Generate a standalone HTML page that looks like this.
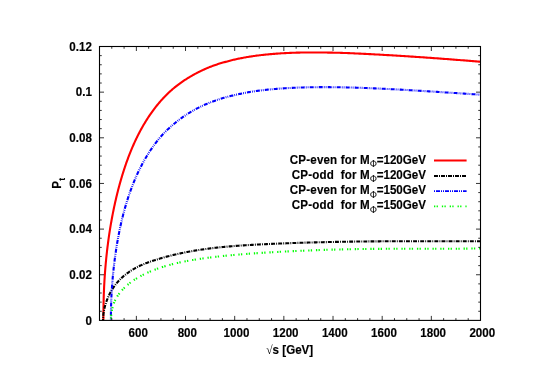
<!DOCTYPE html>
<html>
<head>
<meta charset="utf-8">
<title>P_t vs sqrt(s)</title>
<style>
html, body { margin: 0; padding: 0; background: #ffffff; }
body { width: 545px; height: 385px; overflow: hidden; }
svg { display: block; will-change: transform; }
text {
  font-family: "Liberation Sans", sans-serif;
  font-weight: bold;
  font-size: 11.6px;
  fill: #000000;
  stroke: #000000;
  stroke-width: 0.15px;
  stroke-linejoin: round;
}
.phi { font-family: "Liberation Serif", serif; font-weight: normal; font-size: 9.3px; stroke: none; }
.sym { font-family: "Liberation Serif", serif; font-weight: normal; stroke: none; }
.sub { font-size: 9.3px; }
</style>
</head>
<body>
<svg width="545" height="385" viewBox="0 0 545 385">
<rect x="0" y="0" width="545" height="385" fill="#ffffff"/>

<!-- curves -->
<defs><clipPath id="plotclip"><rect x="99.5" y="46.5" width="381.0" height="273.9"/></clipPath></defs>
<g fill="none" stroke-linejoin="round" clip-path="url(#plotclip)">
<path d="M103.40,320.10 L103.40,318.46 L103.41,316.79 L103.41,315.15 L103.42,313.52 L103.44,311.91 L103.45,310.32 L103.47,308.75 L103.50,307.19 L103.52,305.65 L103.55,304.12 L103.58,302.60 L103.62,301.10 L103.66,299.62 L103.70,298.14 L103.74,296.68 L103.79,295.23 L103.84,293.80 L103.89,292.37 L103.95,290.95 L104.01,289.55 L104.07,288.15 L104.13,286.76 L104.20,285.38 L104.27,284.01 L104.35,282.64 L104.42,281.28 L104.50,279.93 L104.59,278.58 L104.67,277.24 L104.76,275.90 L104.86,274.57 L104.95,273.24 L105.05,271.91 L105.15,270.59 L105.25,269.26 L105.36,267.94 L105.47,266.63 L105.59,265.31 L105.70,264.00 L105.82,262.68 L105.95,261.37 L106.07,260.07 L106.20,258.76 L106.33,257.46 L106.47,256.16 L106.60,254.86 L106.74,253.57 L106.89,252.27 L107.04,250.98 L107.19,249.69 L107.34,248.41 L107.49,247.12 L107.65,245.84 L107.82,244.56 L107.98,243.28 L108.15,242.01 L108.32,240.74 L108.49,239.47 L108.67,238.20 L108.85,236.93 L109.03,235.67 L109.22,234.41 L109.41,233.15 L109.60,231.90 L109.80,230.65 L110.00,229.39 L110.20,228.15 L110.40,226.90 L110.61,225.66 L110.82,224.42 L111.03,223.18 L111.25,221.95 L111.47,220.71 L111.69,219.48 L111.92,218.25 L112.15,217.03 L112.38,215.81 L112.61,214.59 L112.85,213.37 L113.09,212.15 L113.34,210.94 L113.58,209.73 L113.83,208.52 L114.08,207.32 L114.34,206.12 L114.60,204.92 L114.86,203.72 L115.13,202.53 L115.39,201.34 L115.67,200.15 L115.94,198.97 L116.22,197.79 L116.50,196.61 L116.78,195.43 L117.07,194.26 L117.36,193.09 L117.65,191.93 L117.94,190.77 L118.24,189.61 L118.54,188.45 L118.85,187.30 L119.15,186.16 L119.46,185.01 L119.78,183.87 L120.09,182.73 L120.41,181.60 L120.74,180.47 L121.06,179.35 L121.39,178.23 L121.72,177.11 L122.06,176.00 L122.39,174.89 L122.74,173.78 L123.08,172.68 L123.43,171.59 L123.78,170.49 L124.13,169.41 L124.48,168.32 L124.84,167.24 L125.21,166.17 L125.57,165.10 L125.94,164.03 L126.31,162.97 L126.68,161.92 L127.06,160.87 L127.44,159.82 L127.82,158.78 L128.21,157.74 L128.60,156.71 L128.99,155.68 L129.39,154.66 L129.78,153.65 L130.19,152.63 L130.59,151.63 L131.00,150.63 L131.41,149.63 L131.82,148.64 L132.24,147.66 L132.66,146.68 L133.08,145.71 L133.50,144.74 L133.93,143.77 L134.36,142.82 L134.80,141.87 L135.24,140.92 L135.68,139.98 L136.12,139.05 L136.57,138.12 L137.02,137.19 L137.47,136.27 L137.93,135.36 L138.39,134.45 L138.85,133.55 L139.31,132.66 L139.78,131.77 L140.25,130.88 L140.72,130.00 L141.20,129.13 L141.68,128.26 L142.16,127.40 L142.65,126.54 L143.14,125.69 L143.63,124.84 L144.13,124.00 L144.63,123.17 L145.13,122.34 L145.63,121.51 L146.14,120.69 L146.65,119.88 L147.16,119.07 L147.68,118.27 L148.20,117.48 L148.72,116.69 L149.25,115.90 L149.77,115.12 L150.31,114.35 L150.84,113.58 L151.38,112.81 L151.92,112.06 L152.46,111.30 L153.01,110.56 L153.56,109.82 L154.11,109.08 L154.67,108.35 L155.23,107.62 L155.79,106.91 L156.35,106.19 L156.92,105.48 L157.49,104.78 L158.06,104.08 L158.64,103.39 L159.22,102.71 L159.80,102.03 L160.39,101.35 L160.98,100.68 L161.57,100.02 L162.17,99.36 L162.76,98.71 L163.37,98.06 L163.97,97.42 L164.58,96.78 L165.19,96.15 L165.80,95.52 L166.42,94.90 L167.04,94.29 L167.66,93.68 L168.28,93.07 L168.91,92.48 L169.54,91.88 L170.18,91.30 L170.82,90.73 L171.46,90.17 L172.10,89.60 L172.75,89.06 L173.40,88.51 L174.05,87.96 L174.70,87.42 L175.36,86.90 L176.02,86.37 L176.69,85.84 L177.36,85.33 L178.03,84.82 L178.70,84.31 L179.38,83.81 L180.06,83.31 L180.74,82.82 L181.43,82.34 L182.12,81.85 L182.81,81.38 L183.50,80.91 L184.20,80.44 L184.90,79.99 L185.61,79.53 L186.31,79.08 L187.02,78.63 L187.74,78.19 L188.45,77.76 L189.17,77.32 L189.90,76.90 L190.62,76.47 L191.35,76.04 L192.08,75.61 L192.82,75.19 L193.55,74.77 L194.29,74.36 L195.04,73.95 L195.78,73.55 L196.53,73.15 L197.29,72.76 L198.04,72.37 L198.80,71.98 L199.56,71.60 L200.33,71.23 L201.09,70.86 L201.86,70.49 L202.64,70.13 L203.41,69.77 L204.19,69.42 L204.98,69.07 L205.76,68.73 L206.55,68.39 L207.34,68.05 L208.14,67.72 L208.94,67.39 L209.74,67.07 L210.54,66.75 L211.35,66.44 L212.16,66.13 L212.97,65.82 L213.79,65.52 L214.61,65.22 L215.43,64.94 L216.26,64.66 L217.08,64.39 L217.92,64.12 L218.75,63.86 L219.59,63.60 L220.43,63.34 L221.27,63.08 L222.12,62.84 L222.97,62.59 L223.82,62.35 L224.67,62.12 L225.53,61.88 L226.40,61.64 L227.26,61.40 L228.13,61.16 L229.00,60.93 L229.87,60.71 L230.75,60.49 L231.63,60.27 L232.51,60.05 L233.40,59.84 L234.29,59.63 L235.18,59.43 L236.07,59.23 L236.97,59.03 L237.87,58.84 L238.78,58.65 L239.68,58.46 L240.59,58.28 L241.51,58.10 L242.42,57.92 L243.34,57.75 L244.26,57.58 L245.19,57.41 L246.12,57.25 L247.05,57.09 L247.98,56.93 L248.92,56.78 L249.86,56.63 L250.80,56.48 L251.75,56.34 L252.70,56.20 L253.65,56.06 L254.61,55.92 L255.57,55.79 L256.53,55.66 L257.49,55.54 L258.46,55.42 L259.43,55.30 L260.40,55.18 L261.38,55.07 L262.36,54.96 L263.34,54.85 L264.33,54.74 L265.32,54.64 L266.31,54.54 L267.30,54.45 L268.30,54.35 L269.30,54.26 L270.31,54.17 L271.31,54.08 L272.32,54.00 L273.34,53.91 L274.35,53.83 L275.37,53.74 L276.39,53.67 L277.42,53.59 L278.45,53.52 L279.48,53.45 L280.51,53.39 L281.55,53.32 L282.59,53.26 L283.63,53.19 L284.68,53.14 L285.73,53.08 L286.78,53.03 L287.84,52.98 L288.90,52.93 L289.96,52.88 L291.02,52.84 L292.09,52.81 L293.16,52.76 L294.23,52.73 L295.31,52.70 L296.39,52.67 L297.47,52.65 L298.56,52.62 L299.65,52.59 L300.74,52.57 L301.83,52.55 L302.93,52.54 L304.03,52.53 L305.14,52.50 L306.24,52.49 L307.35,52.49 L308.47,52.48 L309.58,52.48 L310.70,52.48 L311.82,52.47 L312.95,52.47 L314.08,52.47 L315.21,52.48 L316.34,52.48 L317.48,52.48 L318.62,52.49 L319.76,52.51 L320.91,52.51 L322.06,52.52 L323.21,52.53 L324.37,52.54 L325.52,52.55 L326.69,52.57 L327.85,52.58 L329.02,52.60 L330.19,52.61 L331.36,52.63 L332.54,52.66 L333.72,52.68 L334.90,52.71 L336.09,52.73 L337.27,52.76 L338.47,52.78 L339.66,52.81 L340.86,52.85 L342.06,52.89 L343.26,52.93 L344.47,52.98 L345.68,53.02 L346.89,53.07 L348.11,53.12 L349.33,53.17 L350.55,53.22 L351.78,53.27 L353.00,53.32 L354.23,53.37 L355.47,53.43 L356.71,53.48 L357.95,53.54 L359.19,53.60 L360.44,53.65 L361.68,53.71 L362.94,53.77 L364.19,53.84 L365.45,53.90 L366.71,53.96 L367.98,54.03 L369.24,54.09 L370.51,54.16 L371.79,54.22 L373.06,54.29 L374.34,54.36 L375.63,54.43 L376.91,54.50 L378.20,54.57 L379.49,54.64 L380.79,54.71 L382.08,54.79 L383.39,54.86 L384.69,54.94 L386.00,55.01 L387.31,55.09 L388.62,55.17 L389.93,55.24 L391.25,55.32 L392.57,55.40 L393.90,55.48 L395.23,55.56 L396.56,55.65 L397.89,55.73 L399.23,55.81 L400.57,55.90 L401.91,55.98 L403.26,56.07 L404.61,56.15 L405.96,56.23 L407.32,56.32 L408.67,56.41 L410.04,56.50 L411.40,56.59 L412.77,56.67 L414.14,56.77 L415.51,56.86 L416.89,56.95 L418.27,57.05 L419.65,57.14 L421.04,57.23 L422.42,57.32 L423.82,57.42 L425.21,57.52 L426.61,57.62 L428.01,57.71 L429.41,57.81 L430.82,57.91 L432.23,58.01 L433.64,58.11 L435.06,58.22 L436.48,58.31 L437.90,58.42 L439.32,58.52 L440.75,58.63 L442.18,58.74 L443.62,58.84 L445.05,58.95 L446.49,59.06 L447.94,59.17 L449.38,59.28 L450.83,59.39 L452.28,59.50 L453.74,59.62 L455.20,59.73 L456.66,59.84 L458.12,59.96 L459.59,60.07 L461.06,60.19 L462.53,60.30 L464.01,60.42 L465.49,60.54 L466.97,60.66 L468.46,60.78 L469.95,60.90 L471.44,61.02 L472.93,61.14 L474.43,61.26 L475.93,61.38 L477.43,61.51 L478.94,61.63 L480.45,61.76" stroke="#ff0000" stroke-width="2.1"/>
<path d="M103.00,320.11 L103.00,320.58 L103.01,320.14 L103.01,319.70 L103.02,319.26 L103.04,318.83 L103.05,318.40 L103.07,317.97 L103.10,317.55 L103.12,317.13 L103.15,316.71 L103.18,316.29 L103.22,315.87 L103.26,315.46 L103.30,315.05 L103.34,314.64 L103.39,314.24 L103.44,313.83 L103.49,313.43 L103.55,313.02 L103.61,312.62 L103.67,312.22 L103.73,311.82 L103.80,311.42 L103.87,311.02 L103.95,310.62 L104.02,310.23 L104.11,309.83 L104.19,309.43 L104.27,309.03 L104.36,308.63 L104.46,308.23 L104.55,307.83 L104.65,307.43 L104.75,307.03 L104.86,306.63 L104.96,306.23 L105.08,305.82 L105.19,305.42 L105.31,305.01 L105.43,304.60 L105.55,304.20 L105.67,303.79 L105.80,303.38 L105.93,302.97 L106.07,302.57 L106.21,302.17 L106.35,301.76 L106.49,301.35 L106.64,300.94 L106.79,300.53 L106.94,300.12 L107.10,299.71 L107.26,299.30 L107.42,298.89 L107.59,298.49 L107.75,298.08 L107.93,297.67 L108.10,297.26 L108.28,296.86 L108.46,296.45 L108.64,296.05 L108.83,295.64 L109.02,295.24 L109.21,294.84 L109.40,294.43 L109.60,294.03 L109.80,293.63 L110.01,293.25 L110.22,292.85 L110.43,292.45 L110.64,292.06 L110.86,291.67 L111.08,291.27 L111.30,290.88 L111.53,290.50 L111.76,290.11 L111.99,289.72 L112.22,289.34 L112.46,288.96 L112.70,288.58 L112.95,288.20 L113.19,287.83 L113.44,287.45 L113.70,287.08 L113.95,286.71 L114.21,286.36 L114.47,285.99 L114.74,285.63 L115.01,285.27 L115.28,284.91 L115.55,284.55 L115.83,284.20 L116.11,283.85 L116.39,283.50 L116.68,283.15 L116.97,282.80 L117.26,282.46 L117.56,282.12 L117.86,281.78 L118.16,281.45 L118.46,281.11 L118.77,280.78 L119.08,280.45 L119.40,280.12 L119.71,279.79 L120.03,279.47 L120.36,279.14 L120.68,278.82 L121.01,278.50 L121.34,278.18 L121.68,277.87 L122.01,277.57 L122.36,277.26 L122.70,276.95 L123.05,276.64 L123.40,276.33 L123.75,276.03 L124.11,275.73 L124.47,275.43 L124.83,275.13 L125.19,274.84 L125.56,274.55 L125.93,274.26 L126.31,273.98 L126.69,273.69 L127.07,273.40 L127.45,273.12 L127.84,272.84 L128.23,272.56 L128.62,272.28 L129.01,272.01 L129.41,271.74 L129.81,271.46 L130.22,271.20 L130.63,270.94 L131.04,270.67 L131.45,270.41 L131.87,270.15 L132.29,269.89 L132.71,269.63 L133.14,269.37 L133.57,269.12 L134.00,268.88 L134.43,268.63 L134.87,268.38 L135.31,268.13 L135.76,267.89 L136.20,267.65 L136.65,267.41 L137.11,267.17 L137.56,266.93 L138.02,266.70 L138.48,266.47 L138.95,266.24 L139.42,266.01 L139.89,265.78 L140.36,265.56 L140.84,265.35 L141.32,265.13 L141.81,264.92 L142.29,264.71 L142.78,264.50 L143.27,264.30 L143.77,264.10 L144.27,263.89 L144.77,263.69 L145.28,263.49 L145.78,263.29 L146.29,263.10 L146.81,262.90 L147.33,262.71 L147.85,262.51 L148.37,262.33 L148.89,262.14 L149.42,261.95 L149.96,261.76 L150.49,261.57 L151.03,261.40 L151.57,261.21 L152.11,261.03 L152.66,260.86 L153.21,260.68 L153.76,260.50 L154.32,260.32 L154.88,260.15 L155.44,259.97 L156.01,259.78 L156.58,259.60 L157.15,259.42 L157.72,259.24 L158.30,259.06 L158.88,258.88 L159.46,258.70 L160.05,258.51 L160.64,258.34 L161.23,258.16 L161.83,257.99 L162.43,257.82 L163.03,257.64 L163.63,257.47 L164.24,257.30 L164.85,257.14 L165.47,256.97 L166.08,256.80 L166.70,256.63 L167.33,256.47 L167.95,256.31 L168.58,256.14 L169.21,255.98 L169.85,255.81 L170.49,255.65 L171.13,255.49 L171.77,255.33 L172.42,255.17 L173.07,255.02 L173.72,254.86 L174.38,254.71 L175.04,254.55 L175.70,254.40 L176.37,254.25 L177.04,254.10 L177.71,253.95 L178.38,253.80 L179.06,253.64 L179.74,253.50 L180.42,253.35 L181.11,253.21 L181.80,253.06 L182.49,252.92 L183.19,252.78 L183.89,252.64 L184.59,252.50 L185.29,252.36 L186.00,252.23 L186.71,252.09 L187.43,251.95 L188.14,251.82 L188.86,251.68 L189.59,251.55 L190.31,251.42 L191.04,251.29 L191.77,251.16 L192.51,251.03 L193.25,250.90 L193.99,250.78 L194.73,250.66 L195.48,250.53 L196.23,250.41 L196.98,250.29 L197.74,250.17 L198.50,250.04 L199.26,249.93 L200.03,249.81 L200.80,249.70 L201.57,249.58 L202.34,249.47 L203.12,249.36 L203.90,249.25 L204.69,249.14 L205.47,249.03 L206.26,248.93 L207.05,248.82 L207.85,248.71 L208.65,248.60 L209.45,248.50 L210.26,248.40 L211.06,248.30 L211.87,248.20 L212.69,248.11 L213.51,248.01 L214.33,247.92 L215.15,247.83 L215.98,247.73 L216.80,247.63 L217.64,247.54 L218.47,247.46 L219.31,247.37 L220.15,247.28 L221.00,247.20 L221.84,247.12 L222.69,247.03 L223.55,246.95 L224.40,246.87 L225.26,246.79 L226.13,246.72 L226.99,246.63 L227.86,246.55 L228.73,246.48 L229.61,246.40 L230.48,246.33 L231.36,246.26 L232.25,246.19 L233.13,246.12 L234.02,246.05 L234.92,245.98 L235.81,245.91 L236.71,245.84 L237.61,245.78 L238.52,245.71 L239.43,245.65 L240.34,245.59 L241.25,245.52 L242.17,245.46 L243.09,245.40 L244.01,245.34 L244.94,245.29 L245.87,245.22 L246.80,245.16 L247.74,245.10 L248.67,245.05 L249.62,244.99 L250.56,244.94 L251.51,244.89 L252.46,244.83 L253.41,244.77 L254.37,244.72 L255.33,244.67 L256.29,244.62 L257.26,244.57 L258.22,244.51 L259.20,244.47 L260.17,244.42 L261.15,244.37 L262.13,244.32 L263.11,244.27 L264.10,244.22 L265.09,244.18 L266.08,244.13 L267.08,244.09 L268.08,244.04 L269.08,243.99 L270.08,243.95 L271.09,243.91 L272.10,243.87 L273.12,243.82 L274.13,243.77 L275.15,243.73 L276.18,243.69 L277.20,243.65 L278.23,243.60 L279.27,243.56 L280.30,243.53 L281.34,243.49 L282.38,243.45 L283.42,243.40 L284.47,243.36 L285.52,243.33 L286.58,243.29 L287.63,243.24 L288.69,243.20 L289.76,243.17 L290.82,243.13 L291.89,243.10 L292.96,243.05 L294.04,243.02 L295.11,242.98 L296.19,242.95 L297.28,242.91 L298.37,242.87 L299.46,242.83 L300.55,242.80 L301.64,242.77 L302.74,242.74 L303.85,242.69 L304.95,242.66 L306.06,242.63 L307.17,242.60 L308.28,242.57 L309.40,242.54 L310.52,242.50 L311.64,242.47 L312.77,242.44 L313.90,242.41 L315.03,242.38 L316.17,242.35 L317.31,242.31 L318.45,242.28 L319.59,242.26 L320.74,242.23 L321.89,242.20 L323.04,242.18 L324.20,242.14 L325.36,242.12 L326.52,242.09 L327.69,242.07 L328.86,242.04 L330.03,242.01 L331.20,241.98 L332.38,241.96 L333.56,241.94 L334.75,241.91 L335.93,241.89 L337.12,241.86 L338.32,241.84 L339.51,241.82 L340.71,241.80 L341.91,241.78 L343.12,241.76 L344.33,241.73 L345.54,241.71 L346.75,241.69 L347.97,241.68 L349.19,241.66 L350.41,241.63 L351.64,241.61 L352.87,241.60 L354.10,241.58 L355.34,241.57 L356.57,241.55 L357.82,241.53 L359.06,241.52 L360.31,241.50 L361.56,241.49 L362.81,241.48 L364.07,241.46 L365.33,241.44 L366.59,241.43 L367.86,241.42 L369.13,241.41 L370.40,241.39 L371.67,241.38 L372.95,241.38 L374.23,241.37 L375.51,241.36 L376.80,241.34 L378.09,241.34 L379.38,241.33 L380.68,241.32 L381.98,241.32 L383.28,241.31 L384.59,241.30 L385.90,241.29 L387.21,241.29 L388.52,241.29 L389.84,241.28 L391.16,241.27 L392.48,241.27 L393.81,241.26 L395.14,241.26 L396.47,241.26 L397.81,241.25 L399.14,241.25 L400.49,241.24 L401.83,241.24 L403.18,241.24 L404.53,241.24 L405.88,241.24 L407.24,241.24 L408.60,241.24 L409.96,241.24 L411.33,241.24 L412.70,241.24 L414.07,241.24 L415.44,241.24 L416.82,241.24 L418.20,241.25 L419.59,241.25 L420.97,241.25 L422.36,241.25 L423.76,241.25 L425.15,241.25 L426.55,241.25 L427.95,241.25 L429.36,241.25 L430.77,241.26 L432.18,241.26 L433.59,241.26 L435.01,241.26 L436.43,241.26 L437.85,241.26 L439.28,241.26 L440.71,241.26 L442.14,241.26 L443.58,241.26 L445.02,241.26 L446.46,241.26 L447.90,241.27 L449.35,241.27 L450.80,241.27 L452.25,241.27 L453.71,241.26 L455.17,241.26 L456.63,241.26 L458.10,241.26 L459.57,241.26 L461.04,241.26 L462.51,241.26 L463.99,241.26 L465.47,241.25 L466.96,241.25 L468.44,241.25 L469.93,241.24 L471.43,241.24 L472.92,241.24 L474.42,241.23 L475.93,241.23 L477.43,241.22 L478.94,241.22 L480.45,241.21" stroke="#000000" stroke-width="2.1" stroke-dasharray="3.9,1.15,0.9,1.15" stroke-dashoffset="1.82"/>
<path d="M110.90,320.10 L110.90,317.36 L110.91,316.16 L110.91,314.97 L110.92,313.77 L110.94,312.59 L110.95,311.40 L110.97,310.22 L110.99,309.04 L111.02,307.87 L111.05,306.69 L111.08,305.52 L111.11,304.35 L111.15,303.19 L111.19,302.02 L111.23,300.86 L111.28,299.70 L111.33,298.54 L111.38,297.39 L111.44,296.23 L111.49,295.07 L111.55,293.92 L111.62,292.77 L111.69,291.61 L111.75,290.46 L111.83,289.31 L111.90,288.16 L111.98,287.01 L112.06,285.85 L112.15,284.70 L112.24,283.55 L112.33,282.40 L112.42,281.24 L112.52,280.09 L112.62,278.93 L112.72,277.78 L112.82,276.62 L112.93,275.46 L113.04,274.30 L113.16,273.14 L113.27,271.98 L113.39,270.82 L113.52,269.66 L113.64,268.50 L113.77,267.33 L113.91,266.17 L114.04,265.01 L114.18,263.85 L114.32,262.69 L114.46,261.53 L114.61,260.37 L114.76,259.21 L114.91,258.05 L115.07,256.89 L115.23,255.74 L115.39,254.58 L115.55,253.43 L115.72,252.28 L115.89,251.12 L116.07,249.97 L116.24,248.83 L116.42,247.68 L116.60,246.53 L116.79,245.39 L116.98,244.25 L117.17,243.11 L117.36,241.97 L117.56,240.84 L117.76,239.71 L117.97,238.58 L118.17,237.45 L118.38,236.33 L118.59,235.21 L118.81,234.09 L119.03,232.98 L119.25,231.86 L119.47,230.76 L119.70,229.65 L119.93,228.55 L120.16,227.45 L120.40,226.36 L120.64,225.27 L120.88,224.18 L121.12,223.10 L121.37,222.02 L121.62,220.95 L121.88,219.88 L122.13,218.81 L122.39,217.75 L122.66,216.70 L122.92,215.64 L123.19,214.59 L123.46,213.55 L123.74,212.51 L124.01,211.47 L124.29,210.44 L124.58,209.41 L124.86,208.39 L125.15,207.37 L125.45,206.35 L125.74,205.34 L126.04,204.33 L126.34,203.33 L126.65,202.33 L126.95,201.34 L127.26,200.35 L127.58,199.36 L127.89,198.38 L128.21,197.40 L128.53,196.43 L128.86,195.46 L129.19,194.50 L129.52,193.54 L129.85,192.58 L130.19,191.63 L130.53,190.69 L130.87,189.74 L131.22,188.80 L131.57,187.87 L131.92,186.94 L132.27,186.02 L132.63,185.10 L132.99,184.18 L133.35,183.27 L133.72,182.36 L134.09,181.46 L134.46,180.56 L134.84,179.67 L135.22,178.78 L135.60,177.89 L135.98,177.01 L136.37,176.13 L136.76,175.26 L137.15,174.40 L137.55,173.53 L137.95,172.67 L138.35,171.82 L138.76,170.97 L139.16,170.13 L139.57,169.29 L139.99,168.45 L140.41,167.62 L140.83,166.79 L141.25,165.97 L141.67,165.16 L142.10,164.34 L142.54,163.53 L142.97,162.73 L143.41,161.93 L143.85,161.14 L144.29,160.35 L144.74,159.56 L145.19,158.78 L145.64,158.01 L146.10,157.24 L146.56,156.47 L147.02,155.71 L147.48,154.95 L147.95,154.20 L148.42,153.45 L148.89,152.70 L149.37,151.96 L149.85,151.23 L150.33,150.50 L150.82,149.78 L151.31,149.05 L151.80,148.34 L152.29,147.63 L152.79,146.92 L153.29,146.22 L153.79,145.52 L154.30,144.83 L154.81,144.14 L155.32,143.46 L155.83,142.78 L156.35,142.10 L156.87,141.43 L157.40,140.77 L157.92,140.11 L158.45,139.45 L158.99,138.80 L159.52,138.16 L160.06,137.52 L160.60,136.88 L161.15,136.25 L161.69,135.62 L162.24,135.00 L162.80,134.38 L163.36,133.79 L163.91,133.20 L164.48,132.62 L165.04,132.04 L165.61,131.48 L166.18,130.91 L166.76,130.35 L167.33,129.79 L167.91,129.25 L168.50,128.71 L169.08,128.16 L169.67,127.63 L170.27,127.10 L170.86,126.57 L171.46,126.05 L172.06,125.54 L172.66,125.02 L173.27,124.51 L173.88,123.99 L174.49,123.47 L175.11,122.96 L175.73,122.44 L176.35,121.94 L176.97,121.44 L177.60,120.95 L178.23,120.45 L178.87,119.97 L179.50,119.48 L180.14,119.01 L180.79,118.53 L181.43,118.07 L182.08,117.61 L182.73,117.15 L183.39,116.70 L184.04,116.24 L184.70,115.80 L185.37,115.36 L186.03,114.91 L186.70,114.48 L187.38,114.04 L188.05,113.61 L188.73,113.19 L189.41,112.77 L190.09,112.35 L190.78,111.94 L191.47,111.53 L192.17,111.13 L192.86,110.73 L193.56,110.34 L194.26,109.95 L194.97,109.56 L195.68,109.18 L196.39,108.80 L197.10,108.43 L197.82,108.06 L198.54,107.69 L199.26,107.33 L199.98,106.97 L200.71,106.62 L201.45,106.27 L202.18,105.92 L202.92,105.58 L203.66,105.24 L204.40,104.91 L205.15,104.58 L205.90,104.26 L206.65,103.93 L207.41,103.62 L208.16,103.30 L208.93,102.99 L209.69,102.69 L210.46,102.38 L211.23,102.09 L212.00,101.79 L212.78,101.50 L213.56,101.21 L214.34,100.93 L215.12,100.65 L215.91,100.38 L216.70,100.10 L217.50,99.84 L218.29,99.57 L219.09,99.31 L219.90,99.05 L220.70,98.80 L221.51,98.55 L222.32,98.30 L223.14,98.06 L223.96,97.82 L224.78,97.59 L225.60,97.35 L226.43,97.13 L227.26,96.90 L228.09,96.68 L228.92,96.46 L229.76,96.24 L230.60,96.03 L231.45,95.82 L232.30,95.62 L233.15,95.42 L234.00,95.22 L234.86,95.02 L235.72,94.82 L236.58,94.62 L237.44,94.43 L238.31,94.23 L239.18,94.03 L240.06,93.85 L240.93,93.66 L241.81,93.48 L242.70,93.30 L243.58,93.13 L244.47,92.95 L245.36,92.78 L246.26,92.61 L247.16,92.45 L248.06,92.29 L248.96,92.12 L249.87,91.97 L250.78,91.82 L251.69,91.67 L252.61,91.54 L253.52,91.40 L254.45,91.27 L255.37,91.13 L256.30,91.01 L257.23,90.88 L258.16,90.76 L259.10,90.63 L260.04,90.52 L260.98,90.41 L261.93,90.28 L262.87,90.18 L263.83,90.07 L264.78,89.97 L265.74,89.85 L266.70,89.75 L267.66,89.66 L268.63,89.55 L269.60,89.46 L270.57,89.37 L271.54,89.28 L272.52,89.19 L273.50,89.10 L274.49,89.02 L275.47,88.93 L276.46,88.85 L277.46,88.78 L278.45,88.70 L279.45,88.62 L280.45,88.56 L281.46,88.49 L282.47,88.41 L283.48,88.35 L284.49,88.29 L285.51,88.22 L286.53,88.16 L287.55,88.10 L288.57,88.04 L289.60,87.98 L290.63,87.93 L291.67,87.87 L292.71,87.83 L293.75,87.78 L294.79,87.74 L295.84,87.69 L296.89,87.64 L297.94,87.61 L298.99,87.56 L300.05,87.52 L301.11,87.49 L302.18,87.46 L303.24,87.43 L304.31,87.40 L305.39,87.37 L306.46,87.34 L307.54,87.32 L308.62,87.30 L309.71,87.28 L310.80,87.26 L311.89,87.24 L312.98,87.22 L314.08,87.21 L315.18,87.20 L316.28,87.19 L317.39,87.18 L318.49,87.17 L319.61,87.16 L320.72,87.16 L321.84,87.15 L322.96,87.15 L324.08,87.15 L325.21,87.15 L326.34,87.15 L327.47,87.16 L328.61,87.16 L329.74,87.17 L330.89,87.18 L332.03,87.18 L333.18,87.20 L334.33,87.21 L335.48,87.22 L336.64,87.24 L337.80,87.25 L338.96,87.27 L340.12,87.29 L341.29,87.31 L342.46,87.33 L343.64,87.35 L344.81,87.38 L345.99,87.40 L347.18,87.43 L348.36,87.46 L349.55,87.49 L350.74,87.52 L351.94,87.55 L353.13,87.58 L354.33,87.62 L355.54,87.65 L356.74,87.69 L357.95,87.73 L359.17,87.77 L360.38,87.81 L361.60,87.85 L362.82,87.89 L364.05,87.94 L365.27,87.98 L366.50,88.03 L367.74,88.08 L368.97,88.13 L370.21,88.18 L371.46,88.23 L372.70,88.28 L373.95,88.33 L375.20,88.39 L376.45,88.44 L377.71,88.50 L378.97,88.55 L380.23,88.61 L381.50,88.67 L382.77,88.73 L384.04,88.79 L385.32,88.86 L386.59,88.92 L387.87,88.98 L389.16,89.05 L390.44,89.11 L391.73,89.18 L393.03,89.25 L394.32,89.32 L395.62,89.39 L396.92,89.46 L398.23,89.53 L399.54,89.60 L400.85,89.67 L402.16,89.75 L403.48,89.82 L404.79,89.89 L406.12,89.97 L407.44,90.05 L408.77,90.12 L410.10,90.20 L411.44,90.28 L412.77,90.36 L414.11,90.44 L415.46,90.52 L416.80,90.60 L418.15,90.68 L419.50,90.77 L420.86,90.85 L422.22,90.93 L423.58,91.02 L424.94,91.10 L426.31,91.19 L427.68,91.27 L429.05,91.36 L430.43,91.44 L431.81,91.53 L433.19,91.62 L434.57,91.71 L435.96,91.80 L437.35,91.88 L438.74,91.97 L440.14,92.06 L441.54,92.15 L442.94,92.24 L444.35,92.33 L445.76,92.43 L447.17,92.52 L448.58,92.61 L450.00,92.70 L451.42,92.79 L452.84,92.89 L454.27,92.98 L455.70,93.07 L457.13,93.17 L458.57,93.26 L460.00,93.35 L461.45,93.45 L462.89,93.54 L464.34,93.63 L465.79,93.73 L467.24,93.82 L468.70,93.92 L470.15,94.01 L471.62,94.11 L473.08,94.20 L474.55,94.30 L476.02,94.39 L477.49,94.49 L478.97,94.58 L480.45,94.68" stroke="#0000ff" stroke-width="2.1" stroke-dasharray="4.0,1.1,0.8,1.1,0.8,1.2" stroke-dashoffset="4.41"/>
<path d="M110.90,320.13 L110.90,321.81 L110.91,321.34 L110.91,320.88 L110.92,320.42 L110.94,319.95 L110.95,319.49 L110.97,319.03 L110.99,318.57 L111.02,318.11 L111.05,317.65 L111.08,317.20 L111.11,316.74 L111.15,316.28 L111.19,315.83 L111.23,315.38 L111.28,314.93 L111.33,314.48 L111.38,314.04 L111.44,313.59 L111.49,313.15 L111.55,312.71 L111.62,312.28 L111.69,311.85 L111.75,311.42 L111.83,310.99 L111.90,310.57 L111.98,310.15 L112.06,309.73 L112.15,309.31 L112.24,308.90 L112.33,308.49 L112.42,308.08 L112.52,307.68 L112.62,307.28 L112.72,306.89 L112.82,306.50 L112.93,306.11 L113.04,305.73 L113.16,305.35 L113.27,304.97 L113.39,304.60 L113.52,304.23 L113.64,303.87 L113.77,303.50 L113.91,303.14 L114.04,302.79 L114.18,302.43 L114.32,302.08 L114.46,301.74 L114.61,301.39 L114.76,301.05 L114.91,300.71 L115.07,300.39 L115.23,300.05 L115.39,299.72 L115.55,299.39 L115.72,299.07 L115.89,298.75 L116.07,298.42 L116.24,298.10 L116.42,297.79 L116.60,297.47 L116.79,297.16 L116.98,296.85 L117.17,296.54 L117.36,296.23 L117.56,295.93 L117.76,295.62 L117.97,295.32 L118.17,295.02 L118.38,294.73 L118.59,294.43 L118.81,294.14 L119.03,293.84 L119.25,293.55 L119.47,293.26 L119.70,292.97 L119.93,292.68 L120.16,292.39 L120.40,292.10 L120.64,291.81 L120.88,291.52 L121.12,291.24 L121.37,290.95 L121.62,290.67 L121.88,290.39 L122.13,290.11 L122.39,289.83 L122.66,289.54 L122.92,289.26 L123.19,288.98 L123.46,288.70 L123.74,288.42 L124.01,288.15 L124.29,287.87 L124.58,287.59 L124.86,287.32 L125.15,287.05 L125.45,286.78 L125.74,286.50 L126.04,286.23 L126.34,285.96 L126.65,285.69 L126.95,285.42 L127.26,285.15 L127.58,284.88 L127.89,284.62 L128.21,284.35 L128.53,284.09 L128.86,283.83 L129.19,283.57 L129.52,283.30 L129.85,283.04 L130.19,282.78 L130.53,282.52 L130.87,282.26 L131.22,282.01 L131.57,281.75 L131.92,281.50 L132.27,281.25 L132.63,281.00 L132.99,280.74 L133.35,280.49 L133.72,280.24 L134.09,279.99 L134.46,279.74 L134.84,279.50 L135.22,279.26 L135.60,279.01 L135.98,278.77 L136.37,278.53 L136.76,278.29 L137.15,278.05 L137.55,277.81 L137.95,277.57 L138.35,277.34 L138.76,277.11 L139.16,276.87 L139.57,276.64 L139.99,276.41 L140.41,276.17 L140.83,275.94 L141.25,275.72 L141.67,275.50 L142.10,275.27 L142.54,275.05 L142.97,274.82 L143.41,274.60 L143.85,274.38 L144.29,274.16 L144.74,273.94 L145.19,273.73 L145.64,273.52 L146.10,273.30 L146.56,273.09 L147.02,272.87 L147.48,272.66 L147.95,272.45 L148.42,272.25 L148.89,272.04 L149.37,271.84 L149.85,271.63 L150.33,271.43 L150.82,271.22 L151.31,271.02 L151.80,270.82 L152.29,270.62 L152.79,270.43 L153.29,270.23 L153.79,270.03 L154.30,269.84 L154.81,269.65 L155.32,269.45 L155.83,269.26 L156.35,269.07 L156.87,268.89 L157.40,268.70 L157.92,268.51 L158.45,268.33 L158.99,268.15 L159.52,267.96 L160.06,267.78 L160.60,267.60 L161.15,267.43 L161.69,267.25 L162.24,267.07 L162.80,266.90 L163.36,266.73 L163.91,266.55 L164.48,266.38 L165.04,266.21 L165.61,266.05 L166.18,265.88 L166.76,265.71 L167.33,265.55 L167.91,265.39 L168.50,265.23 L169.08,265.07 L169.67,264.91 L170.27,264.75 L170.86,264.59 L171.46,264.44 L172.06,264.28 L172.66,264.13 L173.27,263.98 L173.88,263.83 L174.49,263.68 L175.11,263.53 L175.73,263.39 L176.35,263.24 L176.97,263.10 L177.60,262.95 L178.23,262.81 L178.87,262.67 L179.50,262.53 L180.14,262.40 L180.79,262.26 L181.43,262.12 L182.08,261.99 L182.73,261.85 L183.39,261.71 L184.04,261.58 L184.70,261.45 L185.37,261.32 L186.03,261.19 L186.70,261.07 L187.38,260.94 L188.05,260.82 L188.73,260.69 L189.41,260.57 L190.09,260.45 L190.78,260.33 L191.47,260.21 L192.17,260.09 L192.86,259.97 L193.56,259.86 L194.26,259.74 L194.97,259.63 L195.68,259.52 L196.39,259.40 L197.10,259.29 L197.82,259.18 L198.54,259.07 L199.26,258.96 L199.98,258.85 L200.71,258.75 L201.45,258.64 L202.18,258.54 L202.92,258.43 L203.66,258.33 L204.40,258.23 L205.15,258.12 L205.90,258.02 L206.65,257.92 L207.41,257.82 L208.16,257.73 L208.93,257.63 L209.69,257.53 L210.46,257.44 L211.23,257.34 L212.00,257.25 L212.78,257.15 L213.56,257.06 L214.34,256.97 L215.12,256.88 L215.91,256.79 L216.70,256.70 L217.50,256.61 L218.29,256.52 L219.09,256.43 L219.90,256.34 L220.70,256.26 L221.51,256.17 L222.32,256.09 L223.14,256.00 L223.96,255.92 L224.78,255.84 L225.60,255.75 L226.43,255.67 L227.26,255.59 L228.09,255.51 L228.92,255.43 L229.76,255.35 L230.60,255.27 L231.45,255.19 L232.30,255.12 L233.15,255.04 L234.00,254.96 L234.86,254.89 L235.72,254.81 L236.58,254.74 L237.44,254.66 L238.31,254.59 L239.18,254.52 L240.06,254.44 L240.93,254.37 L241.81,254.30 L242.70,254.23 L243.58,254.16 L244.47,254.09 L245.36,254.02 L246.26,253.95 L247.16,253.89 L248.06,253.82 L248.96,253.75 L249.87,253.67 L250.78,253.61 L251.69,253.54 L252.61,253.48 L253.52,253.41 L254.45,253.35 L255.37,253.29 L256.30,253.22 L257.23,253.16 L258.16,253.10 L259.10,253.04 L260.04,252.97 L260.98,252.91 L261.93,252.85 L262.87,252.79 L263.83,252.73 L264.78,252.67 L265.74,252.62 L266.70,252.56 L267.66,252.50 L268.63,252.44 L269.60,252.38 L270.57,252.33 L271.54,252.27 L272.52,252.21 L273.50,252.16 L274.49,252.10 L275.47,252.05 L276.46,251.99 L277.46,251.94 L278.45,251.89 L279.45,251.83 L280.45,251.78 L281.46,251.73 L282.47,251.67 L283.48,251.62 L284.49,251.57 L285.51,251.52 L286.53,251.47 L287.55,251.42 L288.57,251.36 L289.60,251.31 L290.63,251.26 L291.67,251.21 L292.71,251.16 L293.75,251.12 L294.79,251.07 L295.84,251.02 L296.89,250.97 L297.94,250.92 L298.99,250.87 L300.05,250.83 L301.11,250.78 L302.18,250.73 L303.24,250.69 L304.31,250.64 L305.39,250.60 L306.46,250.55 L307.54,250.51 L308.62,250.47 L309.71,250.42 L310.80,250.38 L311.89,250.34 L312.98,250.30 L314.08,250.25 L315.18,250.21 L316.28,250.16 L317.39,250.12 L318.49,250.08 L319.61,250.04 L320.72,250.01 L321.84,249.97 L322.96,249.93 L324.08,249.89 L325.21,249.86 L326.34,249.82 L327.47,249.78 L328.61,249.75 L329.74,249.71 L330.89,249.68 L332.03,249.65 L333.18,249.62 L334.33,249.58 L335.48,249.55 L336.64,249.52 L337.80,249.49 L338.96,249.46 L340.12,249.43 L341.29,249.40 L342.46,249.37 L343.64,249.35 L344.81,249.32 L345.99,249.29 L347.18,249.27 L348.36,249.24 L349.55,249.22 L350.74,249.20 L351.94,249.17 L353.13,249.15 L354.33,249.13 L355.54,249.11 L356.74,249.09 L357.95,249.07 L359.17,249.05 L360.38,249.03 L361.60,249.01 L362.82,249.00 L364.05,248.98 L365.27,248.97 L366.50,248.95 L367.74,248.94 L368.97,248.93 L370.21,248.91 L371.46,248.90 L372.70,248.89 L373.95,248.88 L375.20,248.87 L376.45,248.86 L377.71,248.86 L378.97,248.85 L380.23,248.84 L381.50,248.84 L382.77,248.82 L384.04,248.82 L385.32,248.81 L386.59,248.81 L387.87,248.81 L389.16,248.80 L390.44,248.80 L391.73,248.80 L393.03,248.80 L394.32,248.80 L395.62,248.80 L396.92,248.80 L398.23,248.80 L399.54,248.80 L400.85,248.80 L402.16,248.80 L403.48,248.80 L404.79,248.80 L406.12,248.80 L407.44,248.80 L408.77,248.80 L410.10,248.80 L411.44,248.81 L412.77,248.81 L414.11,248.81 L415.46,248.81 L416.80,248.81 L418.15,248.81 L419.50,248.81 L420.86,248.81 L422.22,248.82 L423.58,248.82 L424.94,248.82 L426.31,248.82 L427.68,248.82 L429.05,248.82 L430.43,248.82 L431.81,248.82 L433.19,248.81 L434.57,248.81 L435.96,248.81 L437.35,248.81 L438.74,248.80 L440.14,248.80 L441.54,248.80 L442.94,248.79 L444.35,248.79 L445.76,248.78 L447.17,248.78 L448.58,248.76 L450.00,248.75 L451.42,248.74 L452.84,248.73 L454.27,248.72 L455.70,248.71 L457.13,248.70 L458.57,248.69 L460.00,248.68 L461.45,248.66 L462.89,248.65 L464.34,248.63 L465.79,248.62 L467.24,248.60 L468.70,248.58 L470.15,248.56 L471.62,248.54 L473.08,248.52 L474.55,248.50 L476.02,248.47 L477.49,248.45 L478.97,248.42 L480.45,248.40" stroke="#00ff00" stroke-width="2.1" stroke-dasharray="1.3,1.3,1.3,3.87" stroke-dashoffset="2.89"/>
</g>

<!-- frame and ticks -->
<path d="M111.79,320.4 v-2.25 M111.79,46.5 v2.25 M124.08,320.4 v-2.25 M124.08,46.5 v2.25 M136.37,320.4 v-4.5 M136.37,46.5 v4.5 M148.66,320.4 v-2.25 M148.66,46.5 v2.25 M160.95,320.4 v-2.25 M160.95,46.5 v2.25 M173.24,320.4 v-2.25 M173.24,46.5 v2.25 M185.53,320.4 v-4.5 M185.53,46.5 v4.5 M197.82,320.4 v-2.25 M197.82,46.5 v2.25 M210.11,320.4 v-2.25 M210.11,46.5 v2.25 M222.40,320.4 v-2.25 M222.40,46.5 v2.25 M234.69,320.4 v-4.5 M234.69,46.5 v4.5 M246.98,320.4 v-2.25 M246.98,46.5 v2.25 M259.27,320.4 v-2.25 M259.27,46.5 v2.25 M271.56,320.4 v-2.25 M271.56,46.5 v2.25 M283.85,320.4 v-4.5 M283.85,46.5 v4.5 M296.15,320.4 v-2.25 M296.15,46.5 v2.25 M308.44,320.4 v-2.25 M308.44,46.5 v2.25 M320.73,320.4 v-2.25 M320.73,46.5 v2.25 M333.02,320.4 v-4.5 M333.02,46.5 v4.5 M345.31,320.4 v-2.25 M345.31,46.5 v2.25 M357.60,320.4 v-2.25 M357.60,46.5 v2.25 M369.89,320.4 v-2.25 M369.89,46.5 v2.25 M382.18,320.4 v-4.5 M382.18,46.5 v4.5 M394.47,320.4 v-2.25 M394.47,46.5 v2.25 M406.76,320.4 v-2.25 M406.76,46.5 v2.25 M419.05,320.4 v-2.25 M419.05,46.5 v2.25 M431.34,320.4 v-4.5 M431.34,46.5 v4.5 M443.63,320.4 v-2.25 M443.63,46.5 v2.25 M455.92,320.4 v-2.25 M455.92,46.5 v2.25 M468.21,320.4 v-2.25 M468.21,46.5 v2.25 M99.5,311.27 h2.25 M480.5,311.27 h-2.25 M99.5,302.14 h2.25 M480.5,302.14 h-2.25 M99.5,293.01 h2.25 M480.5,293.01 h-2.25 M99.5,283.88 h2.25 M480.5,283.88 h-2.25 M99.5,274.75 h4.5 M480.5,274.75 h-4.5 M99.5,265.62 h2.25 M480.5,265.62 h-2.25 M99.5,256.49 h2.25 M480.5,256.49 h-2.25 M99.5,247.36 h2.25 M480.5,247.36 h-2.25 M99.5,238.23 h2.25 M480.5,238.23 h-2.25 M99.5,229.10 h4.5 M480.5,229.10 h-4.5 M99.5,219.97 h2.25 M480.5,219.97 h-2.25 M99.5,210.84 h2.25 M480.5,210.84 h-2.25 M99.5,201.71 h2.25 M480.5,201.71 h-2.25 M99.5,192.58 h2.25 M480.5,192.58 h-2.25 M99.5,183.45 h4.5 M480.5,183.45 h-4.5 M99.5,174.32 h2.25 M480.5,174.32 h-2.25 M99.5,165.19 h2.25 M480.5,165.19 h-2.25 M99.5,156.06 h2.25 M480.5,156.06 h-2.25 M99.5,146.93 h2.25 M480.5,146.93 h-2.25 M99.5,137.80 h4.5 M480.5,137.80 h-4.5 M99.5,128.67 h2.25 M480.5,128.67 h-2.25 M99.5,119.54 h2.25 M480.5,119.54 h-2.25 M99.5,110.41 h2.25 M480.5,110.41 h-2.25 M99.5,101.28 h2.25 M480.5,101.28 h-2.25 M99.5,92.15 h4.5 M480.5,92.15 h-4.5 M99.5,83.02 h2.25 M480.5,83.02 h-2.25 M99.5,73.89 h2.25 M480.5,73.89 h-2.25 M99.5,64.76 h2.25 M480.5,64.76 h-2.25 M99.5,55.63 h2.25 M480.5,55.63 h-2.25" stroke="#000000" stroke-width="0.8" fill="none"/>
<rect x="99.5" y="46.5" width="381.0" height="273.9" fill="none" stroke="#000000" stroke-width="1.1"/>

<!-- tick labels -->
<g><text transform="translate(138.17,337.30) scale(1,1.06)" text-anchor="middle">600</text><text transform="translate(187.33,337.30) scale(1,1.06)" text-anchor="middle">800</text><text transform="translate(236.49,337.30) scale(1,1.06)" text-anchor="middle">1000</text><text transform="translate(285.65,337.30) scale(1,1.06)" text-anchor="middle">1200</text><text transform="translate(334.82,337.30) scale(1,1.06)" text-anchor="middle">1400</text><text transform="translate(383.98,337.30) scale(1,1.06)" text-anchor="middle">1600</text><text transform="translate(433.14,337.30) scale(1,1.06)" text-anchor="middle">1800</text><text transform="translate(482.30,337.30) scale(1,1.06)" text-anchor="middle">2000</text></g>
<g><text transform="translate(91.90,324.70) scale(1,1.06)" text-anchor="end">0</text><text transform="translate(91.90,279.05) scale(1,1.06)" text-anchor="end">0.02</text><text transform="translate(91.90,233.40) scale(1,1.06)" text-anchor="end">0.04</text><text transform="translate(91.90,187.75) scale(1,1.06)" text-anchor="end">0.06</text><text transform="translate(91.90,142.10) scale(1,1.06)" text-anchor="end">0.08</text><text transform="translate(91.90,96.45) scale(1,1.06)" text-anchor="end">0.1</text><text transform="translate(91.90,50.80) scale(1,1.06)" text-anchor="end">0.12</text></g>

<!-- axis titles -->
<text transform="translate(289.70,354.10) scale(1,1.06)" text-anchor="middle"><tspan class="sym">√</tspan>s [GeV]</text>
<text transform="translate(61.0,188.7) rotate(-90) scale(1,1.06)">P</text>
<text class="sub" transform="translate(64.8,180.5) rotate(-90) scale(0.8,1.07)">t</text>

<!-- legend -->
<g><text transform="translate(426.00,163.70) scale(1,1.06)" text-anchor="end"><tspan letter-spacing="0.17">CP-even for M</tspan><tspan class="phi" dy="3.2">Φ</tspan><tspan dy="-3.2">=120GeV</tspan></text><path d="M434.0,160.5 H466.6" stroke="#ff0000" stroke-width="1.9" fill="none"/><text transform="translate(426.00,178.90) scale(1,1.06)" text-anchor="end"><tspan letter-spacing="0.17">CP-odd  for M</tspan><tspan class="phi" dy="3.2">Φ</tspan><tspan dy="-3.2">=120GeV</tspan></text><path d="M434.0,176.0 H466.6" stroke="#000000" stroke-width="1.9" stroke-dasharray="4,1,1,1" stroke-dashoffset="0" fill="none"/><text transform="translate(426.00,194.10) scale(1,1.06)" text-anchor="end"><tspan letter-spacing="0.17">CP-even for M</tspan><tspan class="phi" dy="3.2">Φ</tspan><tspan dy="-3.2">=150GeV</tspan></text><path d="M434.0,191.1 H466.6" stroke="#0000ff" stroke-width="1.9" stroke-dasharray="4,1,1,1,1,1" stroke-dashoffset="7" fill="none"/><text transform="translate(426.00,209.30) scale(1,1.06)" text-anchor="end"><tspan letter-spacing="0.17">CP-odd  for M</tspan><tspan class="phi" dy="3.2">Φ</tspan><tspan dy="-3.2">=150GeV</tspan></text><path d="M434.0,206.4 H466.6" stroke="#00ff00" stroke-width="1.9" stroke-dasharray="1.3,1.3,1.3,3.95" stroke-dashoffset="0" fill="none"/></g>
</svg>
</body>
</html>
